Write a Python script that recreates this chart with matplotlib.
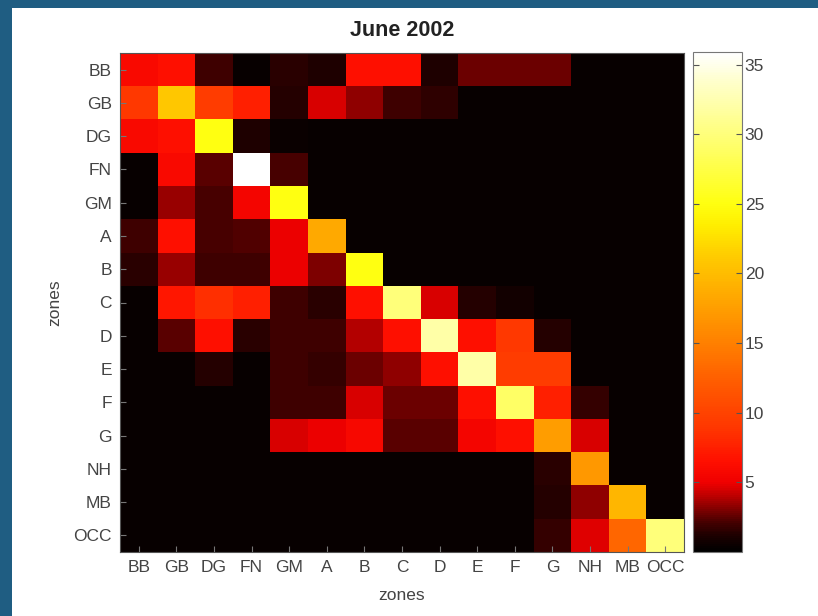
import numpy as np
import matplotlib
matplotlib.use('Agg')
import matplotlib.pyplot as plt
from matplotlib.colors import LinearSegmentedColormap
from matplotlib.patches import Rectangle

plt.rcParams['font.family'] = ['Liberation Sans', 'DejaVu Sans']

zones = ['BB', 'GB', 'DG', 'FN', 'GM', 'A', 'B', 'C', 'D', 'E', 'F', 'G', 'NH', 'MB', 'OCC']

# rows = origin zone, columns = destination zone
row_BB = [6.0, 6.5, 2.0, 0.4, 1.5, 1.2, 6.5, 6.5, 1.2, 2.7, 2.7, 2.7, 0.3, 0.3, 0.3]
row_GB = [9.0, 21.0, 9.5, 7.5, 1.3, 4.5, 3.3, 2.0, 1.6, 0.4, 0.3, 0.3, 0.3, 0.3, 0.3]
row_DG = [6.0, 6.5, 25.0, 1.2, 0.5, 0.4, 0.4, 0.3, 0.3, 0.3, 0.3, 0.3, 0.3, 0.3, 0.3]
row_FN = [0.4, 6.0, 2.5, 35.9, 2.2, 0.4, 0.3, 0.3, 0.3, 0.3, 0.3, 0.3, 0.3, 0.3, 0.3]
row_GM = [0.4, 3.5, 2.2, 5.5, 25.0, 0.4, 0.3, 0.3, 0.3, 0.3, 0.3, 0.3, 0.3, 0.3, 0.3]
row_A = [2.0, 6.5, 2.2, 2.3, 5.0, 18.5, 0.4, 0.3, 0.3, 0.3, 0.3, 0.3, 0.3, 0.3, 0.3]
row_B = [1.5, 3.5, 2.0, 2.0, 5.0, 3.0, 25.0, 0.4, 0.3, 0.3, 0.3, 0.3, 0.3, 0.3, 0.3]
row_C = [0.4, 7.0, 8.5, 7.5, 2.0, 1.5, 6.5, 30.0, 4.5, 1.3, 0.8, 0.3, 0.3, 0.3, 0.3]
row_D = [0.4, 2.5, 6.5, 1.5, 2.0, 2.0, 3.8, 6.5, 32.0, 6.5, 9.0, 1.3, 0.3, 0.3, 0.3]
row_E = [0.3, 0.4, 1.3, 0.4, 2.0, 1.7, 2.8, 3.3, 6.5, 32.0, 9.5, 9.5, 0.3, 0.3, 0.3]
row_F = [0.3, 0.3, 0.3, 0.3, 2.0, 2.0, 4.5, 2.8, 2.8, 6.5, 29.0, 7.5, 1.7, 0.3, 0.3]
row_G = [0.3, 0.3, 0.3, 0.3, 4.5, 5.0, 5.8, 2.5, 2.5, 5.5, 6.5, 17.5, 4.5, 0.3, 0.3]
row_NH = [0.3, 0.3, 0.3, 0.3, 0.3, 0.3, 0.3, 0.3, 0.3, 0.3, 0.3, 1.5, 17.0, 0.3, 0.3]
row_MB = [0.3, 0.3, 0.3, 0.3, 0.3, 0.3, 0.3, 0.3, 0.3, 0.3, 0.3, 1.4, 3.3, 19.5, 0.3]
row_OCC = [0.3, 0.3, 0.3, 0.3, 0.3, 0.3, 0.3, 0.3, 0.3, 0.3, 0.3, 1.8, 4.7, 13.0, 30.0]

values = np.array([row_BB, row_GB, row_DG, row_FN, row_GM, row_A, row_B, row_C,
                   row_D, row_E, row_F, row_G, row_NH, row_MB, row_OCC])

vmin, vmax = 0.0, 35.9
stops = [(0, '#000000'), (1.0, '#1a0000'), (2.0, '#400000'), (3.0, '#800000'),
         (4.0, '#c00000'), (5.0, '#f00000'), (6.5, '#ff1000'), (9, '#ff3800'),
         (12, '#ff5a00'), (15, '#ff8000'), (18, '#ffa400'), (21, '#ffc800'),
         (23.5, '#ffee00'), (25, '#ffff10'), (28, '#ffff50'), (31, '#ffff90'),
         (34, '#ffffd0'), (35.9, '#ffffff')]
cmap = LinearSegmentedColormap.from_list('hotish', [(v / vmax, c) for v, c in stops])

fig = plt.figure(figsize=(8.18, 6.16), dpi=100, facecolor='#1f5d82')
fig.patches.append(Rectangle((12 / 818, 0), 1, 1 - 8 / 616, transform=fig.transFigure,
                             facecolor='white', edgecolor='none', zorder=-10))

ax = fig.add_axes([120 / 818, 1 - 552 / 616, 564 / 818, 499 / 616])
im = ax.imshow(values, cmap=cmap, vmin=vmin, vmax=vmax, aspect='auto', interpolation='nearest')
ax.set_xticks(range(len(zones)))
ax.set_xticklabels(zones)
ax.set_yticks(range(len(zones)))
ax.set_yticklabels(zones)
ax.tick_params(direction='in', length=4, color='#777777', labelsize=12.5, labelcolor='#444444', pad=6)
for s in ax.spines.values():
    s.set_color('#555555')
ax.set_xlabel('zones', fontsize=12.5, color='#444444', labelpad=9)
ax.set_ylabel('zones', fontsize=12.5, color='#444444', labelpad=8)
ax.set_title('June 2002', fontsize=15.5, fontweight='bold', color='#222222', pad=12)

cax = fig.add_axes([693 / 818, 1 - 552 / 616, 49 / 818, 500 / 616])
cb = fig.colorbar(im, cax=cax, ticks=[5, 10, 15, 20, 25, 30, 35])
cax.tick_params(direction='in', length=4, color='#555555', labelsize=12.5, labelcolor='#444444',
                left=True, right=True, pad=2)
cb.outline.set_edgecolor('#777777')

fig.savefig('out.png', dpi=100, facecolor=fig.get_facecolor())
